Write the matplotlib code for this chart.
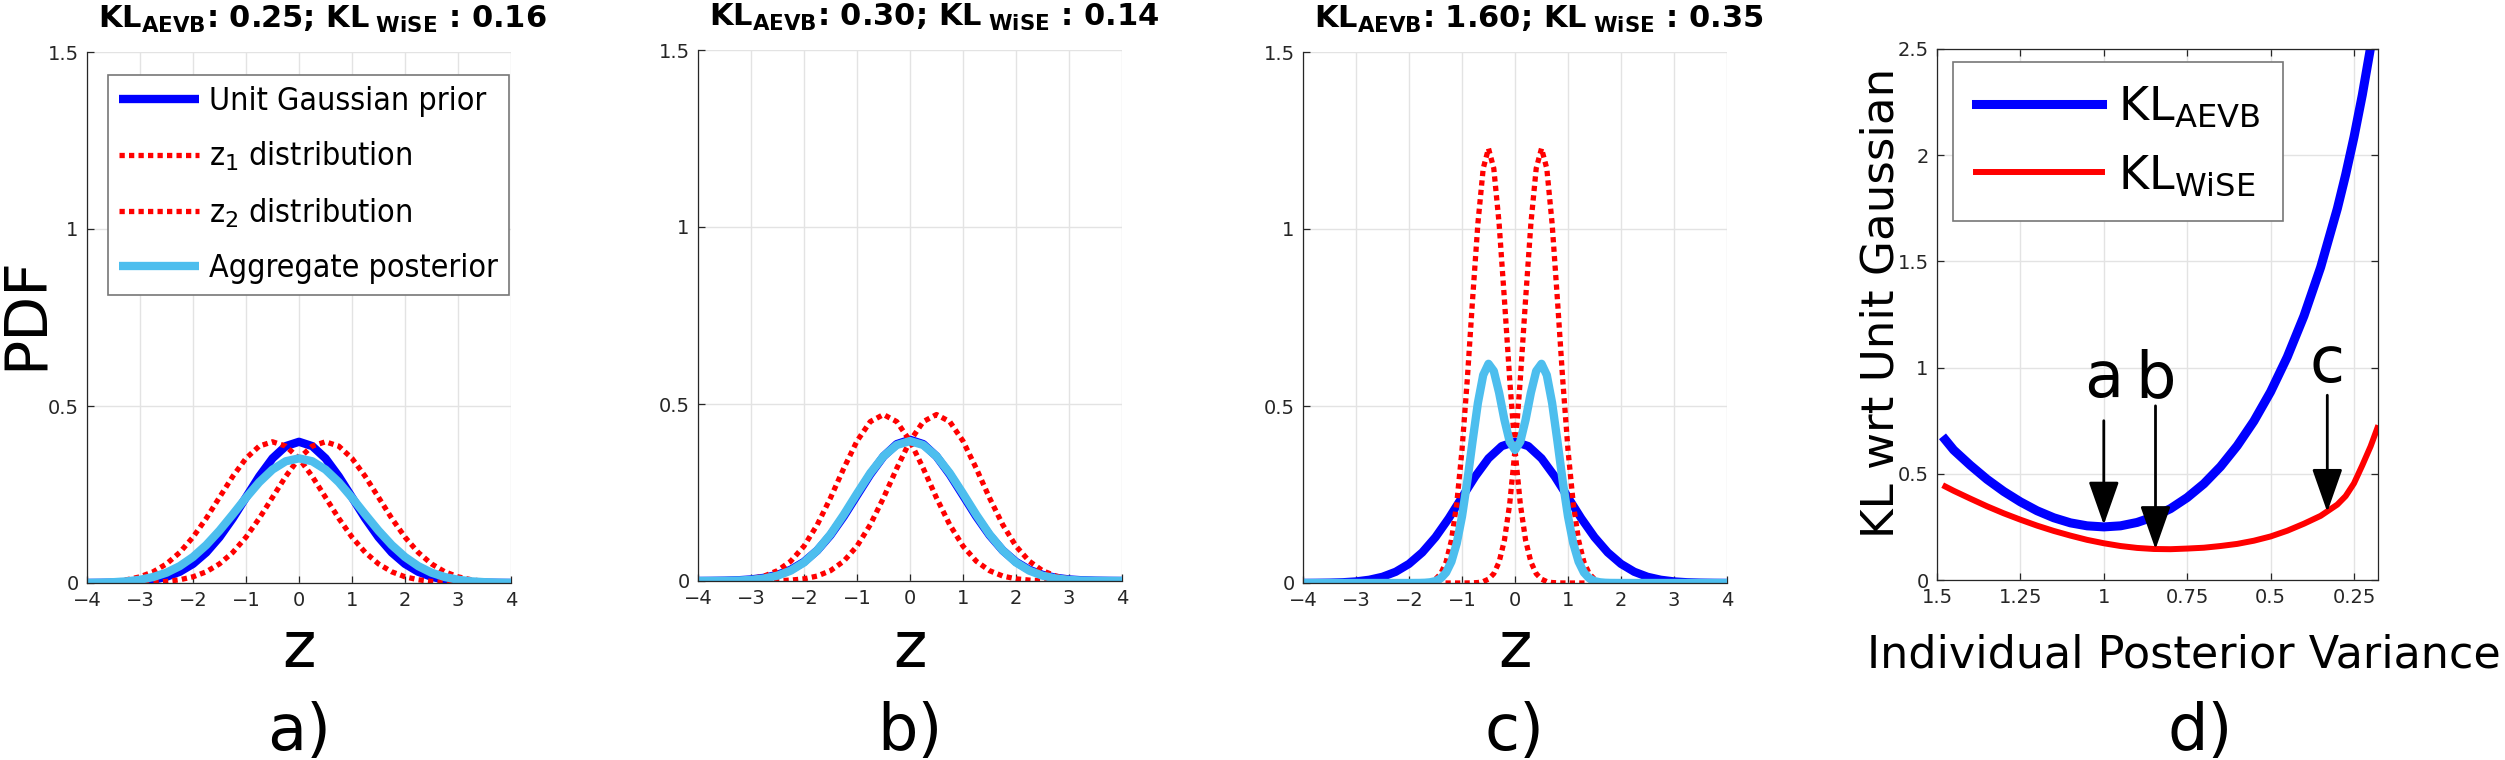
import numpy as np
import matplotlib
matplotlib.use("Agg")
import matplotlib.pyplot as plt
from matplotlib.lines import Line2D
from matplotlib.font_manager import FontProperties

plt.rcParams['font.family'] = ['DejaVu Sans']
plt.rcParams['mathtext.fontset'] = 'dejavusans'

W, H = 2505, 760

z = np.arange(-4, 4.001, 0.25)
zc = np.round(np.concatenate(([-4, -3, -2.5], np.arange(-2, 2.001, 0.1), [2.5, 3, 4])), 2)

# unit gaussian prior, same in a), b), c)
prior = [0.0001, 0.0004, 0.0009, 0.0020, 0.0044, 0.0091, 0.0175, 0.0317, 0.0540, 0.0863, 0.1295,
         0.1826, 0.2420, 0.3011, 0.3521, 0.3867, 0.3989, 0.3867, 0.3521, 0.3011, 0.2420, 0.1826,
         0.1295, 0.0863, 0.0540, 0.0317, 0.0175, 0.0091, 0.0044, 0.0020, 0.0009, 0.0004, 0.0001]

# panel a
a_z1 = [0.0009, 0.0020, 0.0044, 0.0091, 0.0175, 0.0317, 0.0540, 0.0863, 0.1295, 0.1826, 0.2420,
        0.3011, 0.3521, 0.3867, 0.3989, 0.3867, 0.3521, 0.3011, 0.2420, 0.1826, 0.1295, 0.0863,
        0.0540, 0.0317, 0.0175, 0.0091, 0.0044, 0.0020, 0.0009, 0.0004, 0.0001, 0.0, 0.0]
a_z2 = [0.0, 0.0, 0.0001, 0.0004, 0.0009, 0.0020, 0.0044, 0.0091, 0.0175, 0.0317, 0.0540,
        0.0863, 0.1295, 0.1826, 0.2420, 0.3011, 0.3521, 0.3867, 0.3989, 0.3867, 0.3521, 0.3011,
        0.2420, 0.1826, 0.1295, 0.0863, 0.0540, 0.0317, 0.0175, 0.0091, 0.0044, 0.0020, 0.0009]
a_agg = [0.0004, 0.0010, 0.0023, 0.0047, 0.0092, 0.0169, 0.0292, 0.0477, 0.0735, 0.1072, 0.1480,
         0.1937, 0.2408, 0.2847, 0.3205, 0.3439, 0.3521, 0.3439, 0.3205, 0.2847, 0.2408, 0.1937,
         0.1480, 0.1072, 0.0735, 0.0477, 0.0292, 0.0169, 0.0092, 0.0047, 0.0023, 0.0010, 0.0004]

# panel b
b_z1 = [0.0001, 0.0003, 0.0009, 0.0025, 0.0061, 0.0140, 0.0292, 0.0560, 0.0985, 0.1589, 0.2348,
        0.3182, 0.3953, 0.4502, 0.4702, 0.4502, 0.3953, 0.3182, 0.2348, 0.1589, 0.0985, 0.0560,
        0.0292, 0.0140, 0.0061, 0.0025, 0.0009, 0.0003, 0.0001, 0.0, 0.0, 0.0, 0.0]
b_z2 = [0.0, 0.0, 0.0, 0.0, 0.0001, 0.0003, 0.0009, 0.0025, 0.0061, 0.0140, 0.0292,
        0.0560, 0.0985, 0.1589, 0.2348, 0.3182, 0.3953, 0.4502, 0.4702, 0.4502, 0.3953, 0.3182,
        0.2348, 0.1589, 0.0985, 0.0560, 0.0292, 0.0140, 0.0061, 0.0025, 0.0009, 0.0003, 0.0001]
b_agg = [0.0001, 0.0002, 0.0005, 0.0013, 0.0031, 0.0072, 0.0151, 0.0293, 0.0523, 0.0865, 0.1320,
         0.1871, 0.2469, 0.3046, 0.3525, 0.3842, 0.3953, 0.3842, 0.3525, 0.3046, 0.2469, 0.1871,
         0.1320, 0.0865, 0.0523, 0.0293, 0.0151, 0.0072, 0.0031, 0.0013, 0.0005, 0.0002, 0.0001]

# panel c (finer grid around the narrow peaks)
c_z1 = [0.0, 0.0, 0.0,
        0.0, 0.0001, 0.0004, 0.0013, 0.0040, 0.0108, 0.0265, 0.0593, 0.1206, 0.2233,
        0.3757, 0.5754, 0.8017, 1.0158, 1.1708, 1.2275, 1.1708, 1.0158, 0.8017, 0.5754,
        0.3757, 0.2233, 0.1206, 0.0593, 0.0265, 0.0108, 0.0040, 0.0013, 0.0004, 0.0001,
        0.0, 0.0, 0.0, 0.0, 0.0, 0.0, 0.0, 0.0, 0.0, 0.0, 0.0,
        0.0, 0.0, 0.0]
c_z2 = [0.0, 0.0, 0.0,
        0.0, 0.0, 0.0, 0.0, 0.0, 0.0, 0.0, 0.0, 0.0, 0.0, 0.0,
        0.0001, 0.0004, 0.0013, 0.0040, 0.0108, 0.0265, 0.0593, 0.1206, 0.2233, 0.3757,
        0.5754, 0.8017, 1.0158, 1.1708, 1.2275, 1.1708, 1.0158, 0.8017, 0.5754, 0.3757,
        0.2233, 0.1206, 0.0593, 0.0265, 0.0108, 0.0040, 0.0013, 0.0004, 0.0001, 0.0,
        0.0, 0.0, 0.0]
c_agg = [0.0, 0.0, 0.0,
         0.0, 0.0001, 0.0002, 0.0007, 0.0020, 0.0054, 0.0133, 0.0297, 0.0603, 0.1117,
         0.1879, 0.2878, 0.4011, 0.5086, 0.5874, 0.6192, 0.5987, 0.5376, 0.4612, 0.3994,
         0.3757,
         0.3994, 0.4612, 0.5376, 0.5987, 0.6192, 0.5874, 0.5086, 0.4011, 0.2878, 0.1879,
         0.1117, 0.0603, 0.0297, 0.0133, 0.0054, 0.0020, 0.0007, 0.0002, 0.0001, 0.0,
         0.0, 0.0, 0.0]

titles = [r'KL$_{\mathbf{AEVB}}$: 0.25; KL$_{\mathbf{\ WiSE}}$ : 0.16',
          r'KL$_{\mathbf{AEVB}}$: 0.30; KL$_{\mathbf{\ WiSE}}$ : 0.14',
          r'KL$_{\mathbf{AEVB}}$: 1.60; KL$_{\mathbf{\ WiSE}}$ : 0.35']
panel_tags = ['a)', 'b)', 'c)', 'd)']

# panel d: KL vs individual posterior spread
sig = [1.475, 1.45, 1.4, 1.35, 1.3, 1.25, 1.2, 1.15, 1.1, 1.05, 1.0, 0.95, 0.9, 0.85, 0.8,
       0.75, 0.7, 0.65, 0.6, 0.55, 0.5, 0.45, 0.4, 0.35, 0.3, 0.275, 0.25, 0.225, 0.2, 0.18]
kl_aevb = [0.660, 0.612, 0.540, 0.474, 0.417, 0.368, 0.326, 0.293, 0.269, 0.255, 0.250, 0.255,
           0.271, 0.298, 0.336, 0.388, 0.453, 0.534, 0.632, 0.748, 0.886, 1.050, 1.243, 1.472,
           1.748, 1.908, 2.085, 2.284, 2.509, 2.710]
kl_wise = [0.440, 0.420, 0.383, 0.347, 0.314, 0.284, 0.256, 0.231, 0.209, 0.189, 0.173, 0.160,
           0.151, 0.146, 0.145, 0.148, 0.152, 0.160, 0.170, 0.185, 0.205, 0.232, 0.265, 0.302,
           0.355, 0.395, 0.455, 0.540, 0.630, 0.715]
arrow_x = [1.0, 0.845, 0.33]
arrow_tip = [0.26, 0.145, 0.32]
arrow_tail = [0.75, 0.82, 0.87]
arrow_lbl = ['a', 'b', 'c']
arrow_lbl_y = [0.86, 0.86, 0.93]

BLUE = '#0000FF'
RED = '#FF0000'
LBLUE = '#4DBEEE'
AXC = '#262626'
DOT = (0, (1, 0.8))


def rect(x0, x1, y0, y1):
    return [x0 / W, 1 - y1 / H, (x1 - x0) / W, (y1 - y0) / H]


def style(ax, box=False):
    ax.grid(True, color='#e3e3e3', lw=1.0)
    ax.set_axisbelow(True)
    for s in ['top', 'right']:
        ax.spines[s].set_visible(box)
    for s in ax.spines.values():
        s.set_color(AXC)
        s.set_linewidth(0.9)
    ax.tick_params(direction='in', length=5, width=0.9, color=AXC, labelcolor=AXC,
                   labelsize=14, top=box, right=box, pad=6)


fig = plt.figure(figsize=(W / 100, H / 100), dpi=100)

pos = [(87, 511, 52, 583), (698, 1122, 50, 581), (1303, 1727, 52, 583)]
data = [(z, a_z1, a_z2, z, a_agg), (z, b_z1, b_z2, z, b_agg), (zc, c_z1, c_z2, zc, c_agg)]

for i in range(3):
    ax = fig.add_axes(rect(*pos[i]))
    xs, y1, y2, xa, ya = data[i]
    ax.plot(z, prior, color=BLUE, lw=6, solid_capstyle='butt')
    ax.plot(xs, y1, color=RED, lw=3.8, ls=DOT)
    ax.plot(xs, y2, color=RED, lw=3.8, ls=DOT)
    ax.plot(xa, ya, color=LBLUE, lw=6, solid_capstyle='butt')
    ax.set_xlim(-4, 4)
    ax.set_ylim(0, 1.5)
    ax.set_xticks(range(-4, 5))
    ax.set_yticks([0, 0.5, 1, 1.5])
    ax.set_yticklabels(['0', '0.5', '1', '1.5'])
    style(ax)
    ax.text(0.556, 1.045, titles[i], transform=ax.transAxes, ha='center', va='baseline',
            fontsize=22, fontweight='bold')
    ax.text(0.5, -(667 - pos[i][3]) / (pos[i][3] - pos[i][2]), 'z', transform=ax.transAxes,
            ha='center', va='baseline', fontsize=46)
    fig.text((pos[i][0] + pos[i][1]) / 2 / W, 1 - 750 / H, panel_tags[i],
             ha='center', va='baseline', fontsize=46)
    if i == 0:
        handles = [Line2D([], [], color=BLUE, lw=6, solid_capstyle='butt'),
                   Line2D([], [], color=RED, lw=3.8, ls=DOT),
                   Line2D([], [], color=RED, lw=3.8, ls=DOT),
                   Line2D([], [], color=LBLUE, lw=6, solid_capstyle='butt')]
        labels = ['Unit Gaussian prior', r'z$_1$ distribution', r'z$_2$ distribution',
                  'Aggregate posterior']
        lprop = FontProperties(family='DejaVu Sans', stretch='condensed', size=23)
        leg = ax.legend(handles, labels, loc='upper left', bbox_to_anchor=(0.05, 0.957),
                        borderaxespad=0, prop=lprop, fancybox=False, framealpha=1,
                        edgecolor='#777777', handlelength=2.5, handletextpad=0.3,
                        labelspacing=0.72, borderpad=0.35)
        leg.get_frame().set_linewidth(1.2)

fig.text(42 / W, 1 - 313 / H, 'PDF', rotation=90, rotation_mode='anchor',
         ha='center', va='baseline', fontsize=42)

# panel d
d0, d1, dt, db = 1937, 2378, 49, 580
ax = fig.add_axes(rect(d0, d1, dt, db))
l1, = ax.plot(sig, kl_aevb, color=BLUE, lw=6.5)
l2, = ax.plot(sig, kl_wise, color=RED, lw=4.3)
ax.set_xlim(1.5, 0.178)
ax.set_ylim(0, 2.5)
ax.set_xticks([1.5, 1.25, 1, 0.75, 0.5, 0.25])
ax.set_xticklabels(['1.5', '1.25', '1', '0.75', '0.5', '0.25'])
ax.set_yticks([0, 0.5, 1, 1.5, 2, 2.5])
ax.set_yticklabels(['0', '0.5', '1', '1.5', '2', '2.5'])
style(ax, box=True)
for xa, yt, yl, lb, ly in zip(arrow_x, arrow_tip, arrow_tail, arrow_lbl, arrow_lbl_y):
    ax.annotate('', xy=(xa, yt), xytext=(xa, yl),
                arrowprops=dict(arrowstyle='-|>,head_length=2.7,head_width=0.95',
                                mutation_scale=10, lw=2, color='k', shrinkA=0, shrinkB=0))
    ax.text(xa, ly, lb, ha='center', va='baseline', fontsize=46)
leg = ax.legend([l1, l2], [r'KL$_\mathrm{AEVB}$', r'KL$_\mathrm{WiSE}$'], loc='upper left',
                bbox_to_anchor=(0.036, 0.976), borderaxespad=0, fontsize=33, fancybox=False,
                framealpha=1, edgecolor='#777777', handlelength=2.75, handletextpad=0.35,
                labelspacing=0.5, borderpad=0.5)
leg.get_frame().set_linewidth(1.2)
fig.text(2184 / W, 1 - 668 / H, 'Individual Posterior Variance', ha='center', va='baseline',
         fontsize=32)
fig.text(1893 / W, 1 - 303 / H, 'KL wrt Unit Gaussian', rotation=90, rotation_mode='anchor',
         ha='center', va='baseline', fontsize=32.5)
fig.text(2200 / W, 1 - 750 / H, panel_tags[3], ha='center', va='baseline', fontsize=46)

fig.savefig('out.png', dpi=100)
